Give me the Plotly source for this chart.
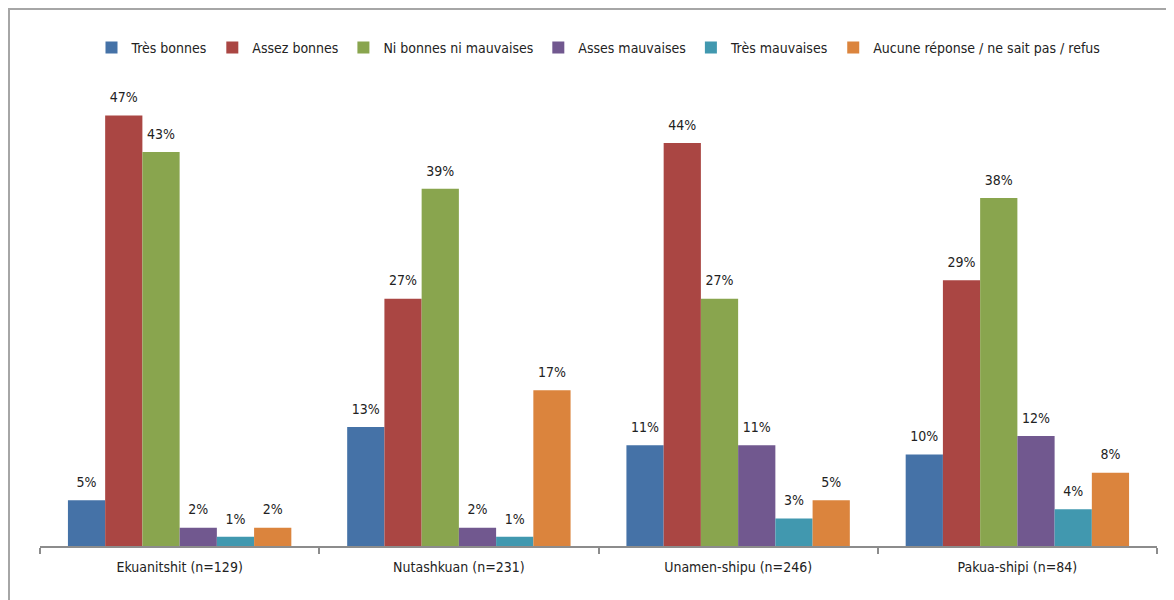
import plotly.graph_objects as go

# données
categories = ['Ekuanitshit (n=129)', 'Nutashkuan (n=231)', 'Unamen-shipu (n=246)', 'Pakua-shipi (n=84)']
series_names = ['Très bonnes', 'Assez bonnes', 'Ni bonnes ni mauvaises', 'Asses mauvaises',
                'Très mauvaises', 'Aucune réponse / ne sait pas / refus']
tres_bonnes = [5, 13, 11, 10]
assez_bonnes = [47, 27, 44, 29]
ni_bonnes = [43, 39, 27, 38]
asses_mauvaises = [2, 2, 11, 12]
tres_mauvaises = [1, 1, 3, 4]
aucune_reponse = [2, 17, 5, 8]

values = [tres_bonnes, assez_bonnes, ni_bonnes, asses_mauvaises, tres_mauvaises, aucune_reponse]
colors = ['#4572A7', '#AA4643', '#89A54E', '#71588F', '#4198AF', '#DB843D']

FONT = 'DejaVu Sans Condensed, Liberation Sans Narrow, Liberation Sans, sans-serif'

W, H = 1166, 592
L, R, T, B = 32, 17, 80, 54
plot_w = W - L - R
plot_h = H - T - B

fig = go.Figure()

# barres
for name, vals, col in zip(series_names, values, colors):
    fig.add_trace(go.Bar(
        x=categories, y=vals, name=name,
        marker=dict(color=col, line=dict(width=0)),
    ))

# étiquettes au-dessus des barres
for name, vals in zip(series_names, values):
    fig.add_trace(go.Scatter(
        x=categories, y=vals, mode='markers+text',
        text=[f'{v}%' for v in vals], textposition='top center',
        textfont=dict(family=FONT, size=14, color='#222222'),
        marker=dict(size=14, color='rgba(0,0,0,0)'),
        showlegend=False, hoverinfo='skip', cliponaxis=False,
    ))

# cadre gris
fig.add_shape(type='rect', xref='paper', yref='paper',
              x0=(1 - L) / plot_w, x1=1.1, y0=-0.5, y1=1 + (T - 1) / plot_h,
              line=dict(color='#A6A6A6', width=2), fillcolor='rgba(0,0,0,0)', layer='below')

fig.update_layout(
    width=W, height=H,
    margin=dict(l=L, r=R, t=T, b=B),
    paper_bgcolor='white', plot_bgcolor='white',
    font=dict(family=FONT, size=14, color='#222222'),
    barmode='group', bargap=0.2, bargroupgap=0,
    scattermode='group', scattergap=0.2,
    legend=dict(orientation='h', x=0.5, xanchor='center', y=1 + 40 / plot_h, yanchor='middle',
                font=dict(size=14), itemwidth=30, traceorder='normal'),
    xaxis=dict(showline=True, linecolor='#8C8C8C', linewidth=2, ticks='outside',
               tickson='boundaries', ticklen=6, tickcolor='#8C8C8C', tickwidth=2,
               ticklabelstandoff=7, showgrid=False),
    yaxis=dict(range=[0, 50], visible=False, showgrid=False, zeroline=False),
)

fig.write_html('out.html')
